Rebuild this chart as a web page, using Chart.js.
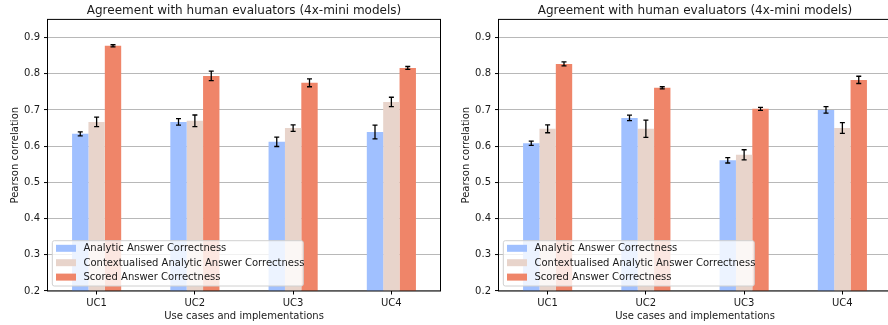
<!DOCTYPE html>
<html>
<head>
<meta charset="utf-8">
<script src="https://cdn.jsdelivr.net/npm/chart.js@4.4.1/dist/chart.umd.min.js"></script>
<style>
  html, body { margin: 0; padding: 0; background: #fff; }
  body { width: 888px; height: 325px; overflow: hidden; position: relative; }
  canvas { position: absolute; top: 0; }
  #left { left: 0; }
  #right { left: 444px; }
</style>
</head>
<body>
<canvas id="left" width="444" height="325"></canvas>
<canvas id="right" width="452" height="325"></canvas>
<script>
const categories = ['UC1', 'UC2', 'UC3', 'UC4'];
const seriesLabels = ['Analytic Answer Correctness', 'Contextualised Analytic Answer Correctness', 'Scored Answer Correctness'];
const seriesColors = ['#a0c0ff', '#e8d4cb', '#ef8569'];
const chartTitle = 'Agreement with human evaluators (4x-mini models)';
const yAxisTitle = 'Pearson correlation';
const xAxisTitle = 'Use cases and implementations';
const yTicks = [0.2, 0.3, 0.4, 0.5, 0.6, 0.7, 0.8, 0.9];

// Left panel
const leftAnalytic = [0.634, 0.667, 0.612, 0.639];
const leftAnalyticErr = [0.0055, 0.009, 0.013, 0.019];
const leftContext = [0.667, 0.670, 0.650, 0.722];
const leftContextErr = [0.013, 0.016, 0.009, 0.013];
const leftScored = [0.877, 0.794, 0.775, 0.816];
const leftScoredErr = [0.003, 0.013, 0.011, 0.004];

// Right panel
const rightAnalytic = [0.608, 0.678, 0.561, 0.700];
const rightAnalyticErr = [0.006, 0.0075, 0.0075, 0.009];
const rightContext = [0.648, 0.648, 0.576, 0.650];
const rightContextErr = [0.011, 0.024, 0.014, 0.015];
const rightScored = [0.827, 0.761, 0.703, 0.783];
const rightScoredErr = [0.0055, 0.003, 0.004, 0.010];

const FONT = 'DejaVu Sans';
const TEXT = '#1a1a1a';

const framePlugin = {
  id: 'frame',
  afterDraw(chart) {
    const {ctx, chartArea: a} = chart;
    ctx.save();
    ctx.strokeStyle = '#000';
    ctx.lineWidth = 1;
    ctx.strokeRect(a.left, a.top, a.right - a.left, a.bottom - a.top);
    ctx.restore();
  }
};

const errorBarPlugin = {
  id: 'errorBars',
  afterDraw(chart) {
    const {ctx} = chart;
    const ys = chart.scales.y;
    ctx.save();
    ctx.strokeStyle = '#000';
    ctx.lineWidth = 1.3;
    chart.data.datasets.forEach((ds, d) => {
      const meta = chart.getDatasetMeta(d);
      meta.data.forEach((bar, i) => {
        const v = ds.data[i], e = ds.errors[i];
        const x = bar.x;
        const y1 = ys.getPixelForValue(v + e);
        const y2 = ys.getPixelForValue(v - e);
        const cap = 2.5;
        ctx.beginPath();
        ctx.moveTo(x, y1); ctx.lineTo(x, y2);
        ctx.moveTo(x - cap, y1); ctx.lineTo(x + cap, y1);
        ctx.moveTo(x - cap, y2); ctx.lineTo(x + cap, y2);
        ctx.stroke();
      });
    });
    ctx.restore();
  }
};

const legendPlugin = {
  id: 'insideLegend',
  afterDraw(chart) {
    const {ctx, chartArea: a} = chart;
    const w = 251, h = 45.3;
    const left = a.left + 4.8, top = a.bottom - 5 - h;
    ctx.save();
    ctx.beginPath();
    if (ctx.roundRect) ctx.roundRect(left, top, w, h, 2); else ctx.rect(left, top, w, h);
    ctx.fillStyle = 'rgba(255,255,255,0.8)';
    ctx.fill();
    ctx.strokeStyle = '#d0d0d0';
    ctx.lineWidth = 1;
    ctx.stroke();
    ctx.font = '10px "' + FONT + '"';
    ctx.textBaseline = 'middle';
    ctx.textAlign = 'left';
    chart.data.datasets.forEach((ds, i) => {
      const yc = top + 7.6 + i * 14.4;
      ctx.fillStyle = ds.backgroundColor;
      ctx.fillRect(a.left + 8.5, yc - 3.5, 20, 7);
      ctx.fillStyle = TEXT;
      ctx.fillText(ds.label, a.left + 36, yc + 0.5);
    });
    ctx.restore();
  }
};

function makeChart(id, values, errors, yWidth, yTitlePad, rightPad) {
  const datasets = values.map((vals, k) => ({
    label: seriesLabels[k],
    data: vals,
    errors: errors[k],
    backgroundColor: seriesColors[k],
    borderWidth: 0,
    categoryPercentage: 0.5,
    barPercentage: 1.0
  }));
  return new Chart(document.getElementById(id), {
    type: 'bar',
    data: { labels: categories, datasets },
    options: {
      responsive: false,
      animation: false,
      events: [],
      layout: { padding: { left: 0, right: rightPad, top: 0, bottom: 0 } },
      plugins: {
        legend: { display: false },
        tooltip: { enabled: false },
        title: {
          display: true,
          text: chartTitle,
          fullSize: false,
          color: TEXT,
          font: { family: FONT, size: 12, weight: 'normal', lineHeight: 1.2 },
          padding: { top: 3.8, bottom: 1.2 }
        }
      },
      scales: {
        x: {
          type: 'category',
          offset: true,
          border: { display: false },
          grid: { display: true, drawOnChartArea: false, offset: false, drawTicks: true, tickLength: 3.5, tickColor: '#000', tickWidth: 1 },
          ticks: { color: TEXT, font: { family: FONT, size: 10 }, padding: 3, maxRotation: 0 },
          title: { display: true, text: xAxisTitle, color: TEXT, font: { family: FONT, size: 10, lineHeight: 1.2 }, padding: { top: 0, bottom: 3 } },
          afterFit(s) { s.height = 34; }
        },
        y: {
          type: 'linear',
          min: 0.2,
          max: 0.95,
          z: 1,
          border: { display: false },
          grid: { color: '#b8b8b8', lineWidth: 1.1, drawTicks: true, tickLength: 3.5, tickColor: '#000', tickWidth: 1 },
          afterBuildTicks(s) { s.ticks = yTicks.map(v => ({ value: v })); },
          ticks: { color: TEXT, font: { family: FONT, size: 10 }, padding: 4, callback: v => Number(v).toFixed(1) },
          title: { display: true, text: yAxisTitle, color: TEXT, font: { family: FONT, size: 10, lineHeight: 1.2 }, padding: { top: yTitlePad, bottom: 0 } },
          afterFit(s) { s.width = yWidth; }
        }
      }
    },
    plugins: [errorBarPlugin, framePlugin, legendPlugin]
  });
}

makeChart('left',
  [leftAnalytic, leftContext, leftScored],
  [leftAnalyticErr, leftContextErr, leftScoredErr],
  47.5, 9.5, 3.5);
makeChart('right',
  [rightAnalytic, rightContext, rightScored],
  [rightAnalyticErr, rightContextErr, rightScoredErr],
  54.5, 16.7, 4.5);
</script>
</body>
</html>
